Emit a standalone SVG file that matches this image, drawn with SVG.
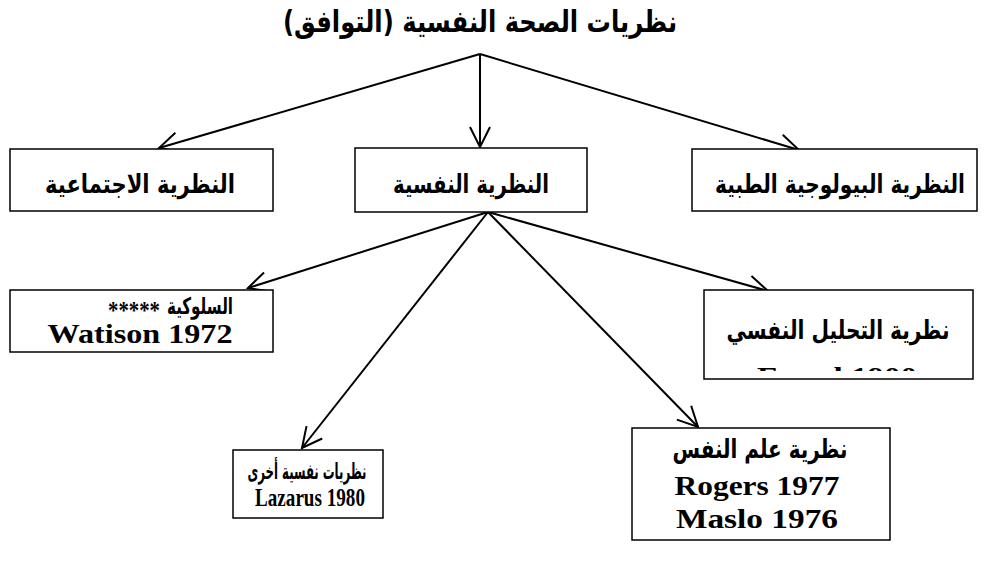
<svg xmlns="http://www.w3.org/2000/svg" width="984" height="565" viewBox="0 0 984 565">
<style>
.ar { font-family: 'DejaVu Sans', 'Noto Sans', sans-serif; font-weight: bold; fill: #000; }
.lat { font-family: 'Liberation Serif', 'DejaVu Serif', serif; font-weight: bold; fill: #000; }
.box { fill: #fff; stroke: #000; stroke-width: 1.5; }
.conn line { stroke: #000; stroke-width: 2; marker-end: url(#arr); }
</style>
<defs>
<marker id="arr" markerUnits="userSpaceOnUse" markerWidth="26" markerHeight="26" refX="20" refY="10" orient="auto" viewBox="-2 -2 26 24" overflow="visible">
<path d="M0,0 L20,10 L0,20" fill="none" stroke="#000" stroke-width="2"/>
</marker>
<clipPath id="clipFreud"><rect x="704" y="290" width="269" height="81"/></clipPath>
</defs>
<rect width="984" height="565" fill="#fff"/>
<g id="title">
<text class="ar" x="480" y="32" font-size="30" text-anchor="middle" textLength="394" lengthAdjust="spacingAndGlyphs">نظريات الصحة النفسية (التوافق)</text>
</g>
<g id="connectors" class="conn">
<line x1="480" y1="54" x2="159" y2="148"/>
<line x1="480" y1="54" x2="480" y2="147"/>
<line x1="480" y1="54" x2="799" y2="150"/>
<line x1="488" y1="212" x2="248" y2="288"/>
<line x1="488" y1="212" x2="302" y2="448"/>
<line x1="488" y1="212" x2="698" y2="427"/>
<line x1="488" y1="212" x2="768" y2="291"/>
</g>
<g id="social">
<rect class="box" x="10" y="149" width="263" height="62"/>
<text class="ar" x="140" y="193" font-size="26" text-anchor="middle" textLength="190" lengthAdjust="spacingAndGlyphs">النظرية الاجتماعية</text>
</g>
<g id="psych">
<rect class="box" x="355" y="148" width="232" height="64"/>
<text class="ar" x="471" y="193" font-size="26" text-anchor="middle" textLength="156" lengthAdjust="spacingAndGlyphs">النظرية النفسية</text>
</g>
<g id="bio">
<rect class="box" x="692" y="149" width="285" height="62"/>
<text class="ar" x="840" y="193" font-size="26" text-anchor="middle" textLength="250" lengthAdjust="spacingAndGlyphs">النظرية البيولوجية الطبية</text>
</g>
<g id="behavior">
<rect class="box" x="10" y="290" width="263" height="62"/>
<text class="lat" x="108" y="319" font-size="26" textLength="52" lengthAdjust="spacingAndGlyphs">*****</text>
<text class="ar" x="233" y="314" font-size="23" text-anchor="end" textLength="66" lengthAdjust="spacingAndGlyphs">السلوكية</text>
<text class="lat" x="140" y="343" font-size="28" text-anchor="middle" textLength="185" lengthAdjust="spacingAndGlyphs">Watison 1972</text>
</g>
<g id="analysis">
<rect class="box" x="704" y="290" width="269" height="89"/>
<text class="ar" x="838" y="339" font-size="26" text-anchor="middle" textLength="223" lengthAdjust="spacingAndGlyphs">نظرية التحليل النفسي</text>
<text class="lat" x="837" y="386" font-size="28" text-anchor="middle" textLength="160" lengthAdjust="spacingAndGlyphs" clip-path="url(#clipFreud)">Freud 1900</text>
</g>
<g id="other">
<rect class="box" x="233" y="450" width="150" height="68"/>
<text class="ar" x="307" y="479" font-size="22" text-anchor="middle" textLength="119" lengthAdjust="spacingAndGlyphs">نظريات نفسية أخرى</text>
<text class="lat" x="310" y="506" font-size="26" text-anchor="middle" textLength="110" lengthAdjust="spacingAndGlyphs">Lazarus 1980</text>
</g>
<g id="humanist">
<rect class="box" x="632" y="428" width="258" height="112"/>
<text class="ar" x="760" y="458" font-size="26" text-anchor="middle" textLength="175" lengthAdjust="spacingAndGlyphs">نظرية علم النفس</text>
<text class="lat" x="757" y="495" font-size="28" text-anchor="middle" textLength="165" lengthAdjust="spacingAndGlyphs">Rogers 1977</text>
<text class="lat" x="757" y="528" font-size="28" text-anchor="middle" textLength="162" lengthAdjust="spacingAndGlyphs">Maslo 1976</text>
</g>
</svg>
